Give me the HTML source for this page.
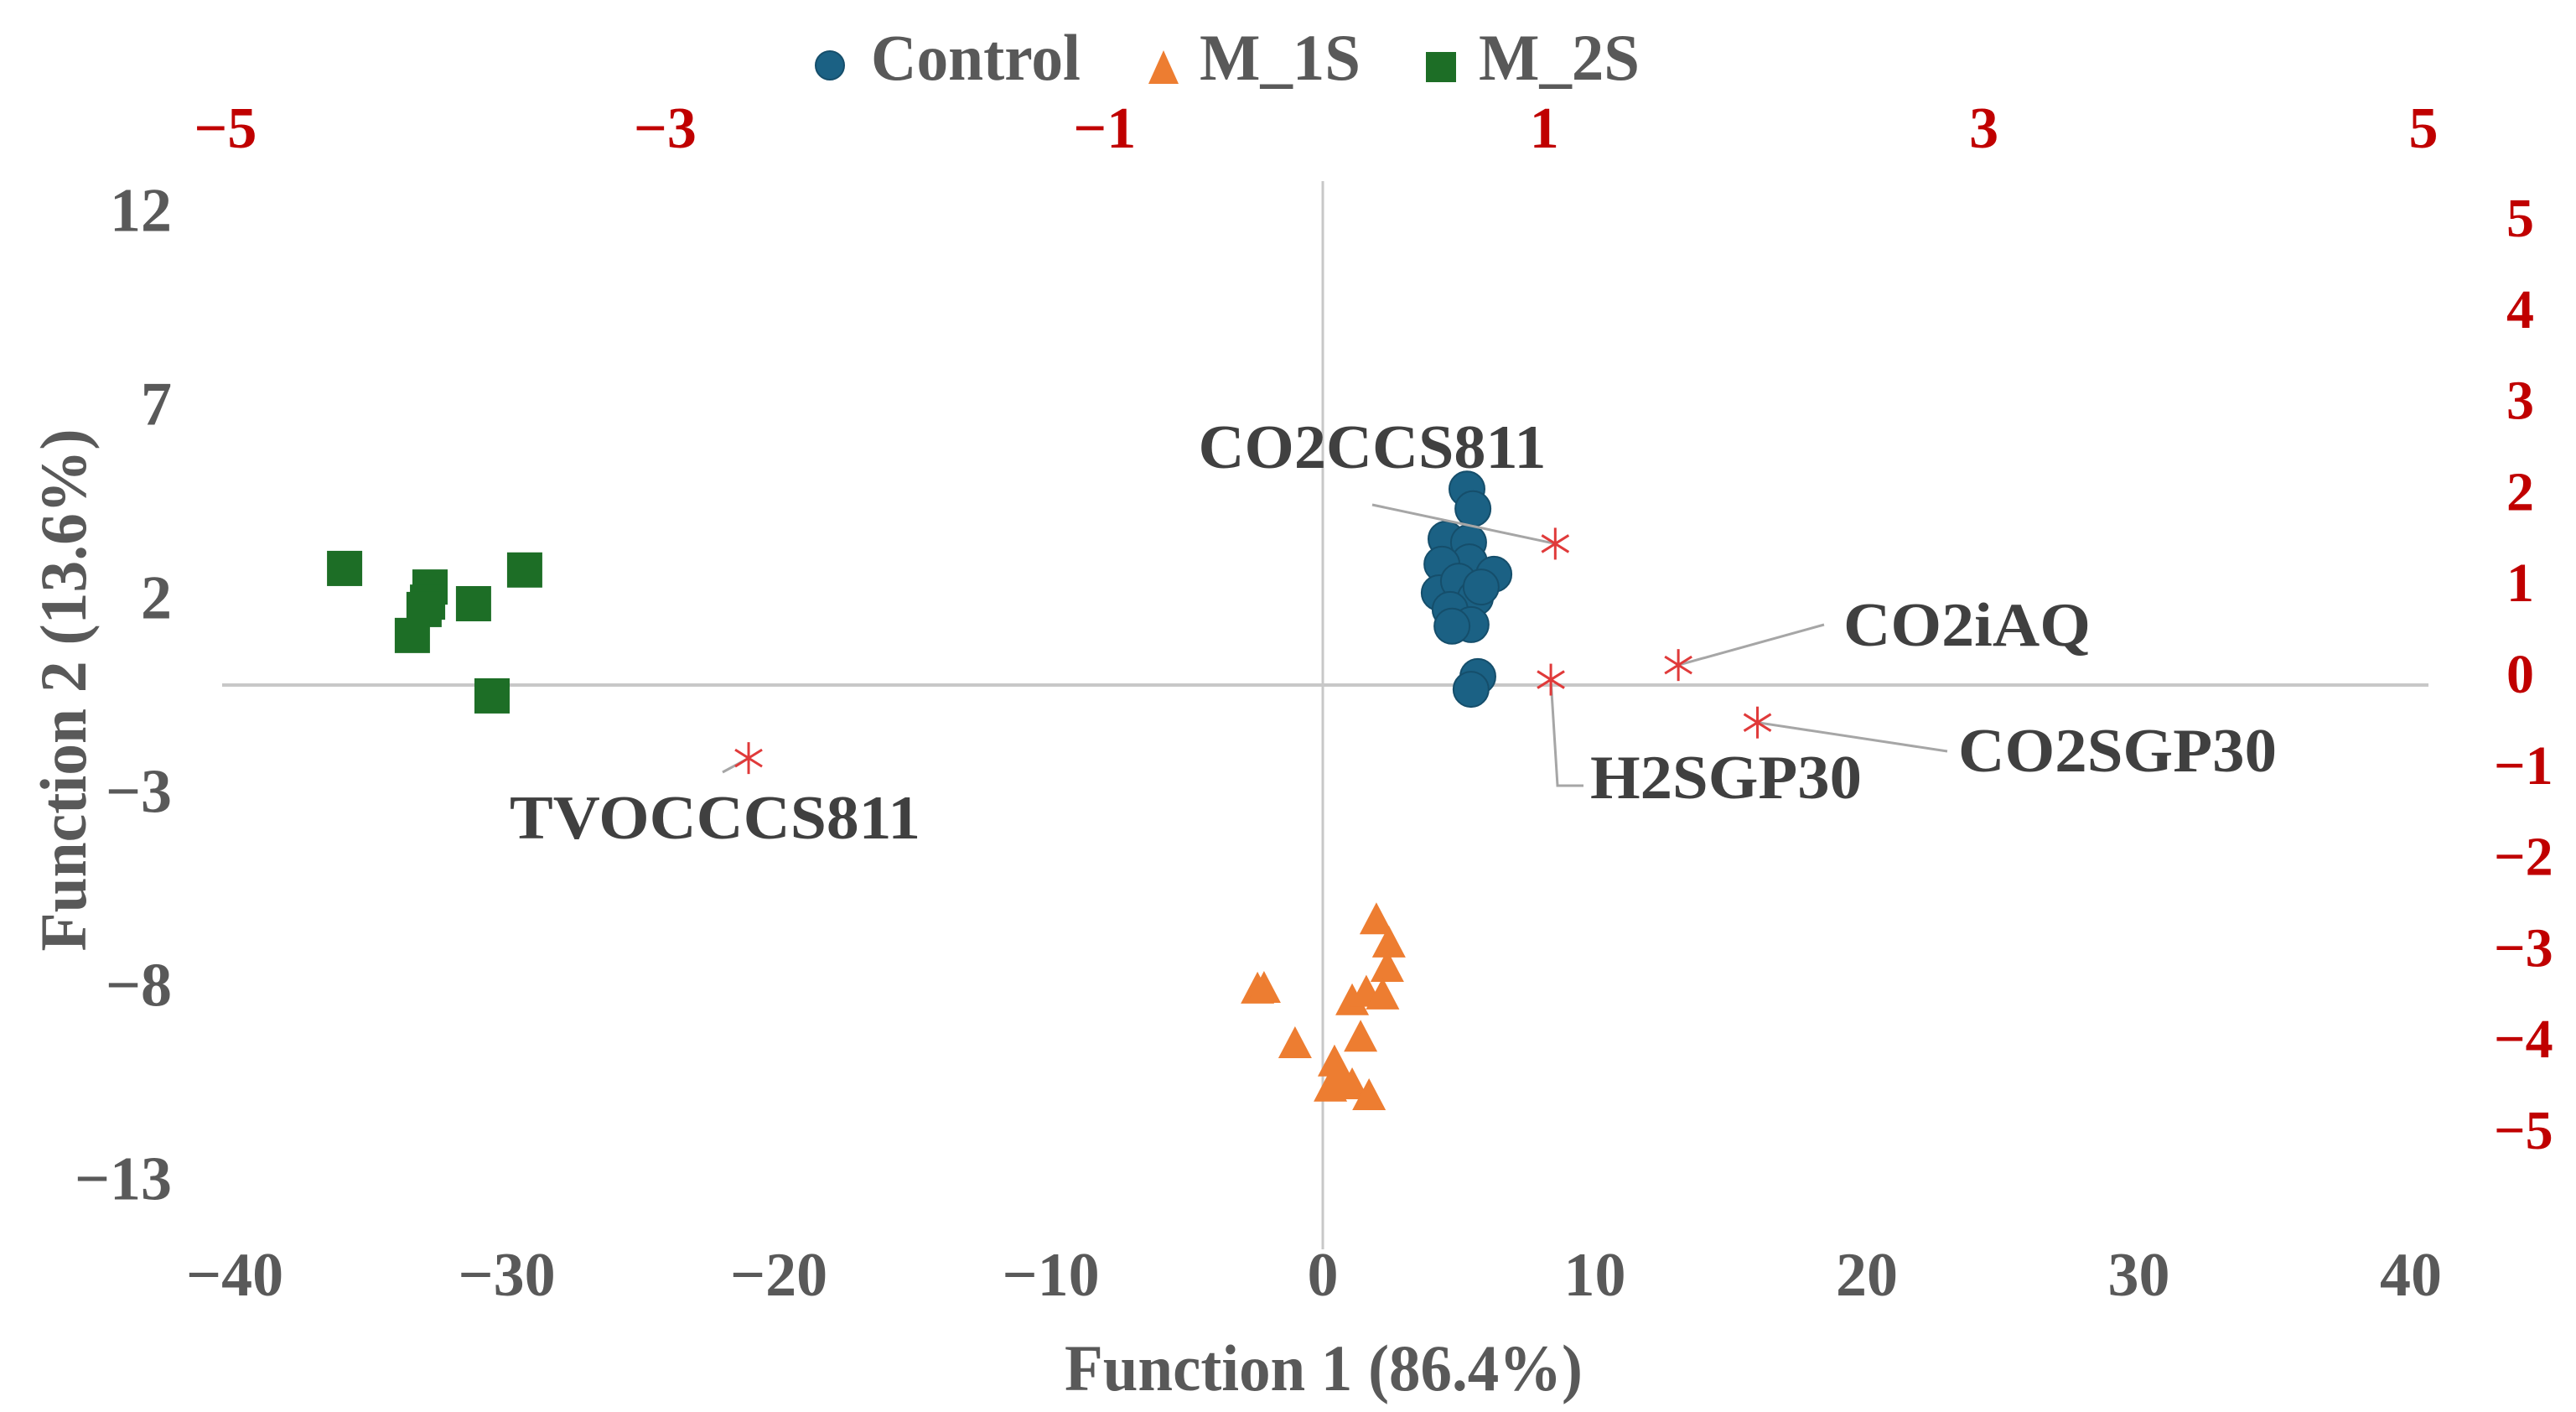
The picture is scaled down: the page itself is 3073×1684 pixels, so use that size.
<!DOCTYPE html>
<html><head><meta charset="utf-8"><style>
html,body{margin:0;padding:0;background:#fff;}
svg{display:block;}
text{font-family:"Liberation Serif",serif;}
</style></head><body>
<svg id="chart" width="3073" height="1684" viewBox="0 0 3073 1684" xmlns="http://www.w3.org/2000/svg">
<g id="axes"></g>
<g id="marks"></g>
<g id="legend">
  <circle cx="990" cy="78" r="17" fill="#1b6184" stroke="#154e6b" stroke-width="2"/>
  <text x="1039" y="95" font-size="78" fill="#595959" font-weight="bold" textLength="250" lengthAdjust="spacingAndGlyphs">Control</text>
  <polygon points="1388,60 1406,100 1370,100" fill="#ed7d31"/>
  <text x="1431" y="95" font-size="78" fill="#595959" font-weight="bold" textLength="192" lengthAdjust="spacingAndGlyphs">M_1S</text>
  <rect x="1701" y="62" width="36" height="36" fill="#1d6e26"/>
  <text x="1764" y="95" font-size="78" fill="#595959" font-weight="bold" textLength="192" lengthAdjust="spacingAndGlyphs">M_2S</text>
</g>
<text x="1579" y="1658" text-anchor="middle" font-size="78" font-weight="bold" fill="#595959" textLength="618" lengthAdjust="spacingAndGlyphs">Function 1 (86.4%)</text>
<text x="0" y="0" transform="translate(102,823) rotate(-90)" text-anchor="middle" font-size="78" font-weight="bold" fill="#595959" textLength="623" lengthAdjust="spacingAndGlyphs">Function 2 (13.6%)</text>
</svg>
<script>
const xTicks = [-40,-30,-20,-10,0,10,20,30,40];
const yTicks = [12,7,2,-3,-8,-13];
const topTicks = [-5,-3,-1,1,3,5];
const rightTicks = [5,4,3,2,1,0,-1,-2,-3,-4,-5];
const controlX = [5.30,5.52,4.53,5.36,5.39,4.38,6.29,4.28,4.99,5.61,4.68,5.45,4.75,5.82,5.70,5.45];
const controlY = [5.06,4.55,3.77,3.68,3.18,3.12,2.86,2.38,2.68,2.25,1.95,1.56,1.52,2.53,0.22,-0.11];
const m1sX = [1.97,2.43,2.37,-2.40,-2.16,1.08,1.60,2.20,1.39,-1.02,0.43,0.68,1.08,1.70,0.28];
const m1sY = [-6.13,-6.73,-7.36,-7.92,-7.90,-8.22,-8.00,-8.07,-9.16,-9.33,-9.80,-10.17,-10.39,-10.67,-10.45];
const m2sX = [-35.96,-32.82,-32.91,-33.04,-33.47,-31.22,-29.34,-30.54];
const m2sY = [3.01,2.53,2.14,1.95,1.28,2.10,2.97,-0.28];
const varNames = ["CO2CCS811","H2SGP30","CO2iAQ","CO2SGP30","TVOCCCS811"];
const varX = [1.05,1.03,1.61,1.97,-2.62];
const varY = [1.54,0.05,0.21,-0.42,-0.81];

const NS="http://www.w3.org/2000/svg";
const sx = v => 1578 + v*32.45;
const sy = v => 817 - v*46.2;
const tx = v => 1580 + v*262.2;
const ty = v => 816 - v*108.8;
function mk(tag, attrs, parent, txt){const e=document.createElementNS(NS,tag);for(const k in attrs)e.setAttribute(k,attrs[k]);if(txt!==undefined)e.textContent=txt;parent.appendChild(e);return e;}
const axes=document.getElementById('axes'), marks=document.getElementById('marks');
const fmt = v => v<0 ? '\u2212'+Math.abs(v) : ''+v;

let l=mk('line',{x1:sx(0),y1:216,x2:sx(0),y2:1490,stroke:'#c8c8c8','stroke-width':3},axes);


l=mk('line',{x1:265,y1:sy(0),x2:2897,y2:sy(0),stroke:'#c8c8c8','stroke-width':4},axes);



xTicks.forEach(v=>{const t=mk('text',{x:sx(v),y:1545,'text-anchor':'middle','font-size':74,'font-weight':'bold',fill:'#595959'},axes,fmt(v));

});
yTicks.forEach(v=>{const t=mk('text',{x:205,y:sy(v)+13,'text-anchor':'end','font-size':74,'font-weight':'bold',fill:'#595959'},axes,fmt(v));

});
topTicks.forEach(v=>{const t=mk('text',{x:tx(v),y:176,'text-anchor':'middle','font-size':70,'font-weight':'bold',fill:'#c00000'},axes,fmt(v));

});
rightTicks.forEach(v=>{const t=mk('text',{x:v<0?2975:2990,y:ty(v)+10,'font-size':66,'font-weight':'bold',fill:'#c00000'},axes,fmt(v));

});

m2sX.forEach((x,i)=>{const r=mk('rect',{x:sx(x)-21,y:sy(m2sY[i])-21,width:42,height:42,fill:'#1d6e26'},marks);

});
m1sX.forEach((x,i)=>{const cx=sx(x),cy=sy(m1sY[i]);const p=mk('polygon',{points:`${cx},${cy-24} ${cx+20},${cy+14} ${cx-20},${cy+14}`,fill:'#ed7d31'},marks);

});
controlX.forEach((x,i)=>{const c=mk('circle',{cx:sx(x),cy:sy(controlY[i]),r:21,fill:'#1b6184',stroke:'#154e6b','stroke-width':2},marks);

});

// variable labels: [textX, textY, anchor, width, leaderEndX, leaderEndY]
const lab = [[1637,558,'middle',415,1637,602],[1897,952,'start',324,1858,937],[2199,770,'start',295,2176,745],[2336,920,'start',380,2323,896],[853,1000,'middle',490,862,921]];
varX.forEach((x,i)=>{const X=tx(x),Y=ty(varY[i]);const L=lab[i];
 let ln;
 if(i===1){ln=mk('polyline',{points:`${X},${Y} ${L[4]},${L[5]} ${L[0]-8},${L[5]}`,fill:'none',stroke:'#a6a6a6','stroke-width':3},marks);}
 else {ln=mk('line',{x1:X,y1:Y,x2:L[4],y2:L[5],stroke:'#a6a6a6','stroke-width':3},marks);}
 
 
 const g=mk('g',{stroke:'#e03a3a','stroke-width':3},marks);
 
 
 mk('line',{x1:X,y1:Y-19,x2:X,y2:Y+19},g);
 mk('line',{x1:X-16,y1:Y-10,x2:X+16,y2:Y+10},g);
 mk('line',{x1:X-16,y1:Y+10,x2:X+16,y2:Y-10},g);
 const t=mk('text',{x:L[0],y:L[1],'text-anchor':L[2],'font-size':74,fill:'#404040','font-weight':'bold',textLength:L[3],lengthAdjust:'spacingAndGlyphs'},marks,varNames[i]);
 
 
});
</script>
</body></html>
